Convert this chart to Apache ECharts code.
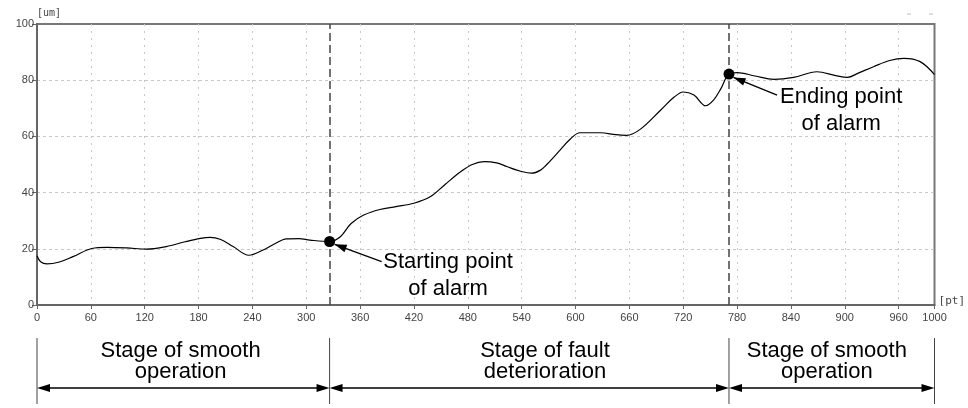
<!DOCTYPE html>
<html>
<head>
<meta charset="utf-8">
<title>alarm stages</title>
<style>
  html, body { margin: 0; padding: 0; background: #fff; }
  #main { width: 968px; height: 408px; }
</style>
<script src="https://cdn.jsdelivr.net/npm/echarts@6/dist/echarts.min.js"></script>
</head>
<body>
<div id="main"></div>
<script>
// curve
var ptX = [0, 4, 11, 25, 40, 61, 78, 100, 122, 144, 165, 182, 193, 204, 219, 236, 252, 265, 278, 292,
  304, 326, 338, 350, 364, 382, 400, 420, 438, 455, 472, 485, 498, 512, 524, 540, 551, 561, 568, 583,
  594, 605, 628, 645, 657, 672, 695, 710, 720, 732, 745, 754, 762, 771, 780, 800, 821, 843, 869, 890,
  903, 915, 932, 950, 966, 984, 1000];
var umY = [17.5, 15.4, 14.6, 15.3, 17.2, 20.1, 20.5, 20.3, 19.9, 20.8, 22.5, 23.7, 24.1, 23.4, 20.7, 17.7, 19.6, 21.8, 23.5, 23.6,
  23.1, 22.6, 24.3, 29, 32, 34, 35, 36.2, 38.5, 43, 47.4, 50, 51, 50.6, 49.2, 47.5, 46.9, 48, 50, 55.2,
  59, 61.3, 61.3, 60.6, 60.4, 62.5, 69.4, 74, 75.8, 74.7, 70.9, 73, 77, 82.2, 82.7, 81.5, 80.3, 81, 83, 81.6,
  81, 82.5, 84.8, 87, 87.8, 86.6, 82];

var alarmX = [326, 771];
var alarmY = [22.6, 82.2];
var alarmText = [['Starting point', 'of alarm'], ['Ending point', 'of alarm']];
var alarmTextAt = [[458, 15.2], [896, 74]];
var arrowFrom = [[384, 15.4], [824.6, 74.7]];
var arrowTo = [[331.6, 21.6], [776, 81]];

var stageEdges = [0, 326, 771, 1000];
var stageText = [['Stage of smooth', 'operation'], ['Stage of fault', 'deterioration'], ['Stage of smooth', 'operation']];
var stageTextX = [160, 566, 880];

var curve = [];
for (var i = 0; i < ptX.length; i++) {
  curve.push([ptX[i], umY[i]]);
}
var alarms = [];
for (var i = 0; i < alarmX.length; i++) {
  alarms.push([alarmX[i], alarmY[i]]);
}

var chart = echarts.init(document.getElementById('main'));

var option = {
  animation: false,
  grid: {
    left: 37, top: 24, right: 33, bottom: 103,
    show: true, borderColor: '#777', borderWidth: 2
  },
  xAxis: {
    type: 'value',
    min: 0, max: 1000, interval: 60,
    name: '[pt]',
    nameLocation: 'end',
    nameGap: 4,
    nameTextStyle: { color: '#444', fontSize: 11, fontFamily: 'DejaVu Sans Mono', verticalAlign: 'bottom', padding: [0, 0, -2, 0] },
    axisLine: { show: true, onZero: false, lineStyle: { color: '#666', width: 2 } },
    axisTick: { show: true, length: 4, lineStyle: { color: '#666' } },
    axisLabel: {
      color: '#444', fontSize: 11, margin: 7, fontFamily: 'Liberation Sans',
      formatter: function (v) { return String(v); }
    },
    splitLine: { show: true, showMinLine: false, showMaxLine: false, lineStyle: { color: '#c8c8c8', width: 1, type: [2, 5] } }
  },
  yAxis: {
    type: 'value',
    min: 0, max: 100, interval: 20,
    name: '[um]',
    nameLocation: 'end',
    nameGap: 3,
    nameTextStyle: { color: '#444', fontSize: 10, fontFamily: 'DejaVu Sans Mono', align: 'left' },
    axisLine: { show: true, lineStyle: { color: '#666', width: 2 } },
    axisTick: { show: true, length: 5, lineStyle: { color: '#666' } },
    axisLabel: { color: '#444', fontSize: 11, margin: 3, fontFamily: 'Liberation Sans' },
    splitLine: { show: true, showMinLine: false, showMaxLine: false, lineStyle: { color: '#c8c8c8', width: 1, type: [3, 3] } }
  },
  series: [
    {
      type: 'line',
      data: curve,
      smooth: 0.35,
      showSymbol: false,
      lineStyle: { color: '#000', width: 1.2 },
      markLine: {
        silent: true,
        symbol: 'none',
        label: { show: false },
        lineStyle: { color: '#444', width: 1.5, type: [8, 4] },
        data: [{ xAxis: alarmX[0] }, { xAxis: alarmX[1] }]
      },
      z: 3
    },
    {
      type: 'scatter',
      data: alarms,
      symbolSize: 11,
      itemStyle: { color: '#000', opacity: 1 },
      z: 5
    }
  ]
};

chart.setOption(option);

function px(p) {
  return chart.convertToPixel({ gridIndex: 0 }, p);
}

function head(tip, from, len, half) {
  var dx = tip[0] - from[0], dy = tip[1] - from[1];
  var d = Math.sqrt(dx * dx + dy * dy);
  var ux = dx / d, uy = dy / d;
  var bx = tip[0] - ux * len, by = tip[1] - uy * len;
  return {
    type: 'polygon',
    shape: { points: [tip, [bx - uy * half, by + ux * half], [bx + uy * half, by - ux * half]] },
    style: { fill: '#000' }
  };
}

function label(str, x, y, size) {
  return {
    type: 'text',
    style: { text: str, x: x, y: y, fill: '#000', font: size + 'px "Liberation Sans", Arial, sans-serif', align: 'center', verticalAlign: 'middle' }
  };
}

var g = [];

// alarm arrows and notes
for (var i = 0; i < 2; i++) {
  var a = px(arrowFrom[i]), b = px(arrowTo[i]);
  g.push({ type: 'line', shape: { x1: a[0], y1: a[1], x2: b[0], y2: b[1] }, style: { stroke: '#000', lineWidth: 1.3 } });
  g.push(head(b, a, 12, 4));
  var t = px(alarmTextAt[i]);
  g.push(label(alarmText[i][0], t[0], t[1], 22));
  g.push(label(alarmText[i][1], t[0], t[1] + 27, 22));
}

// stages under the axis
var base = px([0, 0])[1];
var arrowY = base + 83;
var edgePx = [];
for (var i = 0; i < stageEdges.length; i++) {
  var ex = px([stageEdges[i], 0])[0];
  edgePx.push(ex);
  g.push({ type: 'line', shape: { x1: ex, y1: base + 33, x2: ex, y2: base + 99 }, style: { stroke: '#444', lineWidth: 1 } });
}
for (var i = 0; i < stageText.length; i++) {
  var l = edgePx[i], r = edgePx[i + 1];
  g.push({ type: 'line', shape: { x1: l + 6, y1: arrowY, x2: r - 6, y2: arrowY }, style: { stroke: '#000', lineWidth: 1.3 } });
  g.push(head([l, arrowY], [r, arrowY], 13, 4));
  g.push(head([r, arrowY], [l, arrowY], 13, 4));
  var sx = px([stageTextX[i], 0])[0];
  g.push(label(stageText[i][0], sx, base + 46, 22));
  g.push(label(stageText[i][1], sx, base + 67, 22));
}

// faint marks top right
g.push({ type: 'line', shape: { x1: 907, y1: 14, x2: 911, y2: 14 }, style: { stroke: '#bbb', lineWidth: 1 } });
g.push({ type: 'line', shape: { x1: 929, y1: 14, x2: 933, y2: 14 }, style: { stroke: '#bbb', lineWidth: 1 } });

chart.setOption({ graphic: g });
window.onresize = chart.resize;
</script>
</body>
</html>
